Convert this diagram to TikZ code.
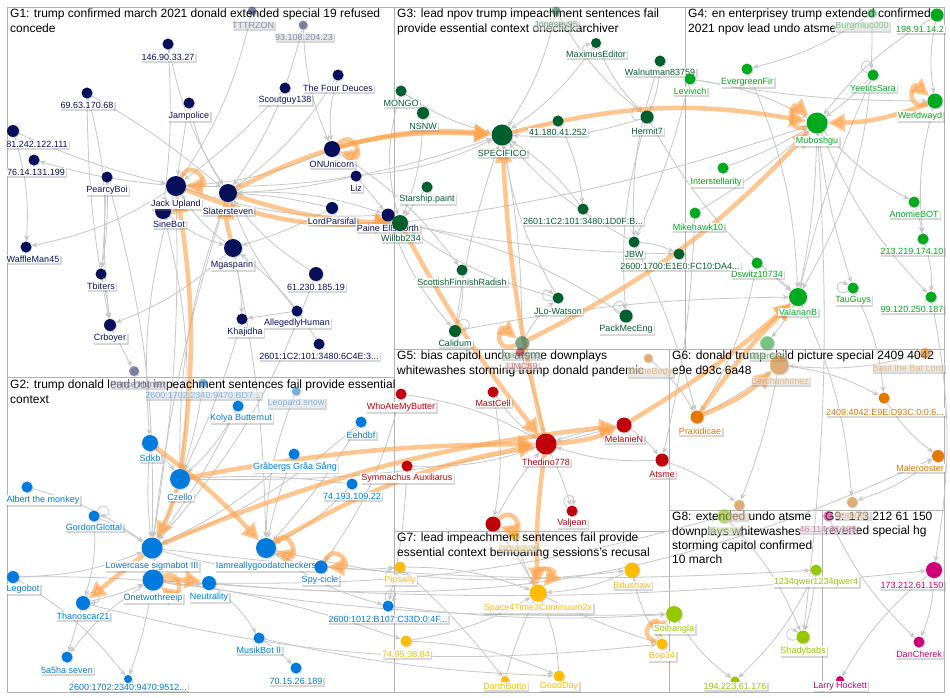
\documentclass[tikz,border=0pt]{standalone}
\usepackage{fontspec}
\setmainfont{Liberation Sans}
\usetikzlibrary{arrows.meta, shadows}

\definecolor{gA}{RGB}{8,16,92}
\definecolor{gB}{RGB}{0,122,220}
\definecolor{gC}{RGB}{0,95,45}
\definecolor{gD}{RGB}{0,170,30}
\definecolor{gE}{RGB}{192,0,10}
\definecolor{gF}{RGB}{230,120,0}
\definecolor{gG}{RGB}{255,188,0}
\definecolor{gH}{RGB}{150,200,0}
\definecolor{gI}{RGB}{205,0,120}
\definecolor{hotorange}{RGB}{255,160,70}

\pgfdeclarelayer{back}
\pgfdeclarelayer{wires}
\pgfsetlayers{back,wires,main}

\tikzset{
  vtx/.style={circle, inner sep=0pt, drop shadow={shadow xshift=1pt, shadow yshift=-1pt, opacity=.3}},
  lbl/.style={fill=white, inner sep=1pt, font=\fontsize{9}{10}\selectfont,
    drop shadow={shadow xshift=1.5pt, shadow yshift=-1.5pt, opacity=.3}},
  nf/.style={},
  gh/.style={opacity=.45},
  ttl/.style={anchor=north west, align=left, inner sep=0pt, font=\fontsize{12}{14.3}\selectfont},
  ln/.style={draw=black!22, line width=.8pt, -{Stealth[length=6pt,width=5pt]}},
  hot/.style={draw=hotorange, opacity=.6, line width=4.5pt, -{Triangle[length=17pt,width=17pt]}},
  box/.style={draw=black!30, line width=.8pt},
}

\begin{document}
\begin{tikzpicture}[x=1pt, y=-1pt]
  \useasboundingbox (0,0) rectangle (950,698);
  \begin{pgfonlayer}{back}
    \fill[white] (0,0) rectangle (950,698);
    \draw[box] (7,7) rectangle (944,692);
    \draw[box] (7,377) -- (394,377);
    \draw[box] (394,7) -- (394,692);
    \draw[box] (685,7) -- (685,349);
    \draw[box] (394,349) -- (944,349);
    \draw[box] (669,349) -- (669,692);
    \draw[box] (394,531) -- (669,531);
    \draw[box] (669,510) -- (944,510);
    \draw[box] (822,510) -- (822,692);
  \end{pgfonlayer}

  \node[ttl] (t1) at (10,9) {G1: trump confirmed march 2021 donald extended special 19 refused\\concede};
  \node[ttl] (t2) at (10,380) {G2: trump donald lead bot impeachment sentences fail provide essential\\context};
  \node[ttl] (t3) at (397,9) {G3: lead npov trump impeachment sentences fail\\provide essential context oneclickarchiver};
  \node[ttl] (t4) at (688,9) {G4: en enterprisey trump extended confirmed\\2021 npov lead undo atsme};
  \node[ttl] (t5) at (397,351) {G5: bias capitol undo atsme downplays\\whitewashes storming trump donald pandemic};
  \node[ttl] (t6) at (672,351) {G6: donald trump child picture special 2409 4042\\e9e d93c 6a48};
  \node[ttl] (t7) at (397,533) {G7: lead impeachment sentences fail provide\\essential context bemoaning sessions's recusal};
  \node[ttl] (t8) at (672,512) {G8: extended undo atsme\\downplays whitewashes\\storming capitol confirmed\\10 march};
  \node[ttl] (t9) at (825,512) {G9: 173 212 61 150\\reverted special hg};

  % G1
  \foreach \s/\n/\x/\y/\d/\lx/\ly/\t in {
    gh/tttrzon/252/11/9/253/25/TTTRZON, gh/ip93/303/25/9/304/37/93.108.204.23,
    nf/ip146/168/44/11/168/57/146.90.33.27, nf/ip69/87/93/11/87/105/69.63.170.68,
    nf/jampol/189/103/11/189/116/Jampolice, nf/ip81/13/131/12/37/144/81.242.122.111,
    nf/ip76/34/160/11/36/172/76.14.131.199, nf/pearcy/107/177/11/107/190/PearcyBoi,
    nf/sinebot/163/211/16/169/224/SineBot, nf/jack/176/186/20/176/204/Jack Upland,
    nf/slater/228/193/18/228/211/Slatersteven, nf/four/338/75/11/338/88/The Four Deuces,
    nf/scout/285/88/11/285/100/Scoutguy138, nf/onu/332/149/16/332/164/ONUnicorn,
    nf/liz/356/176/11/356/188/Liz, nf/lordp/332/208/12/332/221/LordParsifal,
    nf/paine/388/215/13/388/228/Paine Ellsworth, nf/mgas/233/248/18/232/265/Mgasparin,
    nf/ip61/316/274/14/316/287/61.230.185.19, nf/alleg/297/311/11/297/323/AllegedlyHuman,
    nf/khaj/242/319/11/245/332/Khajidha, nf/ip2601a/319/344/11/319/356/{2601:1C2:101:3480:6C4E:3...},
    nf/waffle/26/247/11/33/259/WaffleMan45, nf/tbiters/101/274/11/101/286/Tbiters,
    nf/crboyer/110/325/12/110/338/Crboyer, gh/prince/134/371/10/138/384/Prince Hunter}{
    \node[vtx, \s, fill=gA, minimum size=\d*1pt] (\n) at (\x,\y) {};
    \node[lbl, \s, text=gA] (\n-l) at (\lx,\ly) {\t};
  }

  % G2
  \foreach \s/\n/\x/\y/\d/\lx/\ly/\t in {
    gh/ip2600a/203/383/9/203/395/{2600:1702:2340:9470:BD7...}, nf/kolya/238/406/11/241/418/Kolya Butternut,
    gh/leopard/296/391/9/296/403/Leopard.snow, nf/eehdbf/361/422/11/361/435/Eehdbf,
    nf/sdkb/150/443/16/150/458/Sdkb, nf/czello/180/479/20/180/497/Czello,
    nf/grab/294/454/11/295/467/Gråbergs Gråa Sång, nf/ip74/352/484/11/352/496/74.193.109.22,
    nf/iamreally/266/548/20/266/566/Iamreallygoodatcheckers, nf/spy/321/567/13/320/580/Spy-cicle,
    nf/lowercase/152/548/21/152/566/Lowercase sigmabot III, nf/onetwo/153/580/21/153/598/Onetwothreeip,
    nf/neutral/209/583/14/209/597/Neutrality, nf/albert/27/487/11/43/500/Albert the monkey,
    nf/gordon/94/516/11/94/527/GordonGlottal, nf/legobot/13/577/12/23/589/Legobot,
    nf/thanos/83/603/14/83/616/Thanoscar21, nf/sasha/67/657/11/67/670/5a5ha seven,
    nf/ip2600b/128/679/8/128/687/{2600:1702:2340:9470:9512...}, nf/musik/259/638/11/259/650/MusikBot II,
    nf/ip70/296/668/11/296/681/70.15.26.189, nf/ip2600d/388/606/11/388/619/{2600:1012:B107:C33D:0:4F...}}{
    \node[vtx, \s, fill=gB, minimum size=\d*1pt] (\n) at (\x,\y) {};
    \node[lbl, \s, text=gB] (\n-l) at (\lx,\ly) {\t};
  }

  % G3
  \foreach \s/\n/\x/\y/\d/\lx/\ly/\t in {
    gh/jonesey/556/11/9/556/25/Jonesey95, nf/mongo/401/91/11/401/103/MONGO,
    nf/nsnw/423/113/12/423/126/NSNW, nf/starship/427/187/11/427/199/Starship.paint,
    nf/willbb/400/223/16/401/238/Willbb234, nf/maximus/596/43/10/596/54/MaximusEditor,
    nf/walnut/660/61/11/660/72/Walnutman83759, nf/specifico/502/135/21/502/153/SPECIFICO,
    nf/ip41/558/121/11/558/132/41.180.41.252, nf/hermit/647/117/13/647/131/Hermit7,
    nf/ip2601b/583/209/11/583/221/{2601:1C2:101:3480:1D0F:B...}, nf/scottish/462/270/11/462/282/ScottishFinnishRadish,
    nf/calidum/455/331/12/455/343/Calidum, nf/jbw/634/242/11/634/254/JBW,
    nf/ip2600c/679/254/11/680/266/{2600:1700:E1E0:FC10:DA4...}, nf/jlo/558/298/11/558/311/JLo-Watson,
    nf/packmec/626/316/13/626/329/PackMecEng, gh/acer/522/343/14/521/355/Acer9000}{
    \node[vtx, \s, fill=gC, minimum size=\d*1pt] (\n) at (\x,\y) {};
    \node[lbl, \s, text=gC] (\n-l) at (\lx,\ly) {\t};
  }

  % G4
  \foreach \s/\n/\x/\y/\d/\lx/\ly/\t in {
    gh/burg/872/13/9/862/26/Burgmluc000, nf/ip198/937/15/13/920/29/198.91.14.2,
    nf/evergreen/747/69/11/747/82/EvergreenFir, nf/yeet/873/75/11/873/88/YeetitsSara,
    nf/levivich/690/79/11/690/91/Levivich, nf/werld/935/101/15/920/116/Werldwayd,
    nf/muboshgu/817/123/21/817/141/Muboshgu, nf/inter/723/168/11/716/182/Interstellarity,
    nf/mike/695/213/11/698/227/Mikehawk10, nf/anomie/914/202/11/914/214/AnomieBOT,
    nf/ip213/923/239/11/912/251/213.219.174.10, nf/dswitz/757/263/11/757/274/Dswitz10734,
    nf/valarian/798/297/18/798/312/ValarianB, nf/tauguys/853/288/11/853/300/TauGuys,
    nf/ip99/931/297/11/912/309/99.120.250.187, gh/valereee/767/343/14/767/356/Valereee}{
    \node[vtx, \s, fill=gD, minimum size=\d*1pt] (\n) at (\x,\y) {};
    \node[lbl, \s, text=gD] (\n-l) at (\lx,\ly) {\t};
  }

  % G5
  \node[vtx, fill=gE, minimum size=15pt] (redx) at (493,524) {};
  \foreach \s/\n/\x/\y/\d/\lx/\ly/\t in {
    gh/jjmc/520/352/9/521/366/JJMC89, nf/who/401/394/11/401/407/WhoAteMyButter,
    nf/mastcell/493/392/11/493/403/MastCell, nf/thedino/546/444/21/546/462/Thedino778,
    nf/melanie/624/425/15/624/439/MelanieN, nf/atsme/662/460/13/662/474/Atsme,
    nf/symm/407/466/11/407/478/Symmachus Auxiliarus, nf/valjean/572/511/11/572/523/Valjean}{
    \node[vtx, \s, fill=gE, minimum size=\d*1pt] (\n) at (\x,\y) {};
    \node[lbl, \s, text=gE] (\n-l) at (\lx,\ly) {\t};
  }

  % G6
  \foreach \s/\n/\x/\y/\d/\lx/\ly/\t in {
    gh/somebody/648/358/9/650/372/SomeBody, gh/berch/779/365/19/780/381/Berchanhimez,
    gh/basil/925/353/11/908/368/Basil the Bat Lord, nf/ip2409/884/398/11/885/412/{2409:4042:E9E:D93C:0:0:6...},
    nf/praxi/697/417/13/700/431/Praxidicae, nf/maler/938/456/12/920/468/Malerooster,
    gh/nick/739/505/11/738/516/Nick, gh/teahues/852/502/11/852/515/Teahues}{
    \node[vtx, \s, fill=gF, minimum size=\d*1pt] (\n) at (\x,\y) {};
    \node[lbl, \s, text=gF] (\n-l) at (\lx,\ly) {\t};
  }

  % G7
  \foreach \s/\n/\x/\y/\d/\lx/\ly/\t in {
    gh/dimadick/515/536/9/517/548/Dimadick, nf/pipsally/400/567/11/400/580/Pipsally,
    nf/ip7495/406/641/11/406/654/74.95.38.84, nf/bdushaw/632/570/15/632/585/Bdushaw,
    nf/space/538/593/17/538/608/Space4Time3Continuum2x, nf/bop/662/644/11/662/656/Bop34,
    nf/darth/505/680/8/505/686/DarthBotto, nf/goodday/559/676/11/559/686/GoodDay}{
    \node[vtx, \s, fill=gG, minimum size=\d*1pt] (\n) at (\x,\y) {};
    \node[lbl, \s, text=gG] (\n-l) at (\lx,\ly) {\t};
  }

  % G8
  \foreach \s/\n/\x/\y/\d/\lx/\ly/\t in {
    gh/goldf/724/516/14/724/530/Gerosa, nf/soib/674/614/16/674/629/Soibangla,
    nf/qwer/816/570/11/816/582/1234qwer1234qwer4, nf/shady/803/637/13/803/651/Shadybabs,
    nf/ip194/735/681/9/735/686/194.223.61.176}{
    \node[vtx, \s, fill=gH, minimum size=\d*1pt] (\n) at (\x,\y) {};
    \node[lbl, \s, text=gH] (\n-l) at (\lx,\ly) {\t};
  }

  % G9
  \foreach \s/\n/\x/\y/\d/\lx/\ly/\t in {
    gh/ip46/828/516/10/828/529/46.114.38.126, nf/ip173/934/570/16/912/585/173.212.61.150,
    nf/dancherek/919/642/11/919/654/DanCherek, nf/larry/840/680/8/840/686/Larry Hockett}{
    \node[vtx, \s, fill=gI, minimum size=\d*1pt] (\n) at (\x,\y) {};
    \node[lbl, \s, text=gI] (\n-l) at (\lx,\ly) {\t};
  }

  \begin{pgfonlayer}{wires}
    \foreach \a/\b/\k in {
      ip146/sinebot/5, ip146/slater/-10, ip69/slater/5, ip69/tbiters/10, jampol/jack/0,
      jampol/slater/-10, ip81/jack/-5, jack/ip76/5, ip81/waffle/10, pearcy/tbiters/5,
      pearcy/crboyer/-5, jack/waffle/10, tbiters/crboyer/5, mgas/crboyer/10, crboyer/prince/0,
      scout/jack/5, four/slater/10, four/onu/-10, tttrzon/jack/10, ip93/onu/-10,
      ip93/slater/10, liz/slater/5, lordp/slater/-5, onu/jack/10, slater/paine/10,
      jack/paine/-10, mgas/jack/10, mgas/khaj/5, alleg/khaj/0, ip61/slater/10,
      alleg/slater/10, ip2601a/mgas/-10, lordp/mgas/5, liz/paine/0, sinebot/mgas/-10,
      jack/sdkb/-10, sinebot/czello/10, jack/lowercase/5, slater/czello/-10, mgas/iamreally/5,
      ip61/lowercase/10, khaj/czello/5, slater/lowercase/-5, ip69/crboyer/-5, pearcy/lowercase/8,
      mongo/nsnw/10, mongo/specifico/-10, nsnw/willbb/10, starship/willbb/0, jonesey/specifico/10,
      maximus/specifico/10, maximus/hermit/-10, walnut/hermit/10, ip41/specifico/0, hermit/specifico/10,
      ip2601b/specifico/-10, scottish/calidum/10, calidum/specifico/5, jbw/ip2600c/10, hermit/packmec/-10,
      jlo/specifico/10, jlo/willbb/10, packmec/willbb/-10, acer/specifico/-5, acer/jlo/10,
      jbw/specifico/10, mongo/willbb/-15, jonesey/hermit/-10, walnut/jbw/-10, ip41/ip2601b/10,
      burg/evergreen/10, ip198/werld/-10, yeet/muboshgu/5, levivich/muboshgu/10, inter/muboshgu/-5,
      mike/muboshgu/-5, anomie/ip213/5, ip213/ip99/10, dswitz/valarian/5, muboshgu/tauguys/-5,
      valarian/valereee/5, muboshgu/valarian/5, muboshgu/anomie/-10, muboshgu/ip99/-10, werld/ip213/-10,
      levivich/werld/-5, ip198/muboshgu/-10, burg/valarian/15, evergreen/valarian/10, yeet/valarian/-5,
      sdkb/czello/5, kolya/czello/10, czello/lowercase/5, lowercase/onetwo/10, gordon/lowercase/5,
      legobot/lowercase/-10, albert/lowercase/10, thanos/sasha/0, legobot/ip2600b/10, onetwo/ip2600b/5,
      onetwo/sasha/-10, musik/ip70/5, spy/iamreally/10, grab/iamreally/-5, ip74/iamreally/10,
      eehdbf/iamreally/5, leopard/iamreally/-10, ip2600a/czello/5, neutral/musik/10, onetwo/neutral/-10,
      lowercase/spy/-10, thanos/onetwo/-5, iamreally/ip2600d/-10, spy/pipsally/-5, kolya/lowercase/5,
      grab/lowercase/8, eehdbf/lowercase/10, ip74/czello/-5, gordon/thanos/10, sdkb/lowercase/-5,
      who/thedino/10, mastcell/thedino/-10, melanie/atsme/10, thedino/valjean/5, atsme/thedino/10,
      symm/thedino/-10, redx/thedino/5, melanie/thedino/-5, mastcell/redx/10, jjmc/thedino/5,
      berch/ip2409/10, praxi/berch/-5, basil/berch/10, maler/teahues/10, atsme/nick/10,
      somebody/praxi/10, ip2409/maler/-10, berch/nick/5,
      pipsally/space/10, ip7495/space/-10, bdushaw/space/10, goodday/space/-10, darth/space/5,
      bop/bdushaw/10, redx/space/5, dimadick/space/-5, ip7495/goodday/10, pipsally/darth/5,
      qwer/ip194/10, qwer/shady/5, soib/ip194/-10, goldf/shady/10,
      ip173/dancherek/10, ip173/larry/-10, ip46/dancherek/-10,
      onetwo/ip173/-5, thanos/bop/-10, neutral/maler/-15, lowercase/qwer/-5, iamreally/bdushaw/-10,
      czello/melanie/-8, ip2600d/soib/-5, willbb/ip2600c/-5, willbb/muboshgu/-5, calidum/valarian/5,
      jack/specifico/-10, dswitz/praxi/10, mike/atsme/5, valarian/teahues/10, tauguys/ip2409/10,
      ip99/ip173/10, muboshgu/shady/5, jbw/praxi/5, hermit/valarian/-10, levivich/jbw/5,
      paine/calidum/-10, liz/specifico/-10, onu/scottish/10, who/spy/10, symm/ip2600d/5,
      neutral/goldf/-8, legobot/ip7495/10, musik/goodday/-5, space/bop/-5, onetwo/soib/-5}{
      \draw[ln] (\a) to[bend left=\k] (\b);
    }
    \foreach \n/\o/\i in {maximus/250/190, hermit/200/130, yeet/160/100, tauguys/210/150,
      gordon/60/0, thanos/60/0, shady/200/140, valjean/140/80, pipsally/250/190,
      ip2600d/110/50, packmec/160/100, jlo/200/140, calidum/70/10}{
      \draw[ln] (\n) to[out=\o, in=\i, min distance=16pt] (\n);
    }
    \foreach \a/\b/\k in {
      jack/willbb/-12, slater/willbb/-8, slater/specifico/15, onu/specifico/10, specifico/muboshgu/12,
      werld/muboshgu/10, acer/muboshgu/-10, thedino/specifico/5, willbb/thedino/-5, czello/jack/-8,
      czello/thedino/5, lowercase/melanie/8, lowercase/thanos/0, czello/lowercase/5, iamreally/thedino/10,
      thedino/space/-5, thedino/melanie/-10, melanie/valarian/-5, praxi/berch/-10, sdkb/iamreally/5,
      mgas/slater/10, praxi/valarian/5, onetwo/neutral/5}{
      \draw[hot] (\a) to[bend left=\k] (\b);
    }
    \foreach \n/\o/\i in {jack/60/0, onu/40/-20, muboshgu/200/140, werld/200/140, acer/200/140,
      iamreally/40/-20, spy/60/0, onetwo/20/-40, space/110/50, bop/160/100, redx/40/-20}{
      \draw[hot] (\n) to[out=\o, in=\i, min distance=24pt] (\n);
    }
  \end{pgfonlayer}
\end{tikzpicture}
\end{document}
